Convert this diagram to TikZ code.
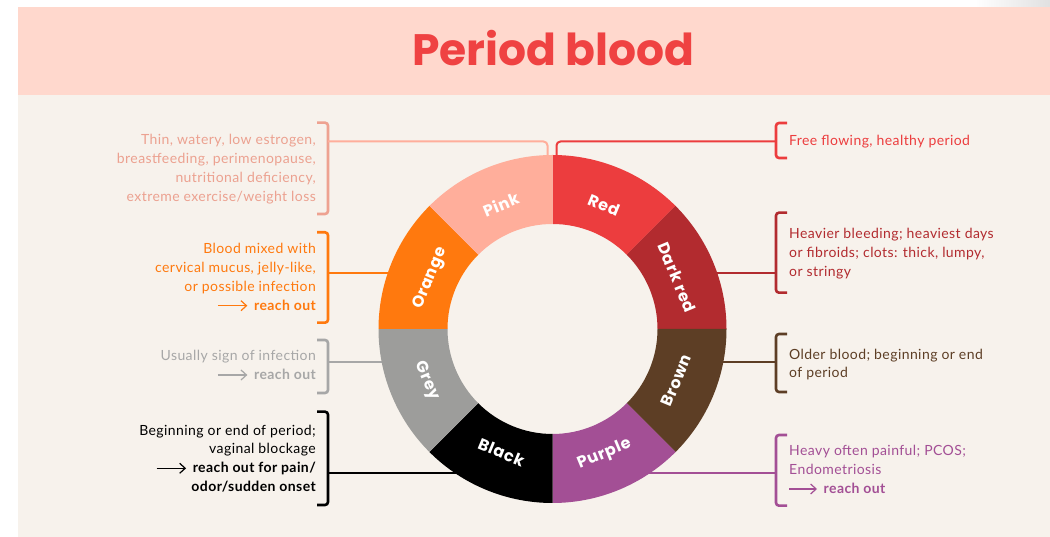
\documentclass[tikz,border=0pt]{standalone}
\usepackage{fontspec}
\setmainfont{Lato}[LetterSpace=3]
\newfontfamily\titlefont{Poppins}
\newfontfamily\ringfont{Poppins}[LetterSpace=4]
\usetikzlibrary{arrows.meta}

\definecolor{cream}{HTML}{F7F2EC}
\definecolor{header}{HTML}{FFD8CD}
\definecolor{titlered}{HTML}{EF4242}
\definecolor{cRed}{HTML}{EC3D3E}
\definecolor{cDark}{HTML}{B22B2F}
\definecolor{cBrown}{HTML}{5D3E25}
\definecolor{cPurple}{HTML}{A34F95}
\definecolor{cBlack}{HTML}{000000}
\definecolor{cGrey}{HTML}{9D9D9B}
\definecolor{cOrange}{HTML}{FF790E}
\definecolor{cPink}{HTML}{FFAE9B}
\definecolor{tPink}{HTML}{ECA190}
\definecolor{tGrey}{HTML}{A7A7A7}

% one 45-degree piece of the colour wheel
\newcommand\ringseg[3]{%
  \fill[#3] (#1:174) arc[start angle=#1, end angle=#2, radius=174]
    -- (#2:105) arc[start angle=#2, end angle=#1, radius=105] -- cycle;}

\tikzset{
  desc/.style={font=\fontsize{14}{19}\selectfont, inner sep=0pt},
  descbold/.style={font=\fontsize{14}{19}\selectfont\bfseries},
  lft/.style={desc, anchor=base east},
  rgt/.style={desc, anchor=base west},
  bracket/.style={line width=2.6pt, rounded corners=3pt},
  link/.style={line width=2pt, rounded corners=4pt},
  arr/.style={line width=1.2pt, -{Straight Barb[length=5.5pt, width=10pt]}},
  ringlabel/.style={text=white, font=\ringfont\bfseries\fontsize{16}{16}\selectfont,
    inner sep=0pt, text height=11pt, text depth=0pt},
}

\begin{document}
\begin{tikzpicture}[x=1pt, y=1pt]
\useasboundingbox (0,0) rectangle (1050,537);

% page, body and header band
\fill[white] (0,0) rectangle (1050,537);
\fill[cream] (18,0) rectangle (1050,442.3);
\fill[header] (18,442.3) rectangle (1050,530.3);
\shade[left color=white, right color=black!12] (975,530.3) rectangle (1050,537);
\node[font=\titlefont\bfseries\fontsize{44}{44}\selectfont, text=titlered,
  anchor=base, inner sep=0pt] (title) at (553.5,471.3) {Period blood};

% wheel centre and attachment points
\coordinate (C) at (552.5,208);
\coordinate (pinkIn) at (547.5,378);
\coordinate (redIn) at (556.5,378);
\coordinate (orangeIn) at (400,264);
\coordinate (darkIn) at (705,264);
\coordinate (greyIn) at (400,174.5);
\coordinate (brownIn) at (705,174.5);
\coordinate (blackIn) at (465,64);
\coordinate (purpleIn) at (640,64);

% left brackets
\draw[bracket, tPink!90!cPink] (317,414.3) -- (328,414.3) -- (328,323) -- (317,323);
\draw[bracket, cOrange] (317,304.7) -- (328,304.7) -- (328,214.3) -- (317,214.3);
\draw[bracket, tGrey] (317,197) -- (328,197) -- (328,144) -- (317,144);
\draw[bracket, cBlack] (317,125.3) -- (328,125.3) -- (328,32) -- (317,32);
\coordinate (pinkB) at (328,395.5);
\coordinate (orangeB) at (328,264);
\coordinate (greyB) at (328,174.5);
\coordinate (blackB) at (328,64);

% right brackets
\draw[bracket, cRed] (787,414) -- (776,414) -- (776,379) -- (787,379);
\draw[bracket, cDark] (787,324.3) -- (776,324.3) -- (776,244.3) -- (787,244.3);
\draw[bracket, cBrown] (787,203) -- (776,203) -- (776,145) -- (787,145);
\draw[bracket, cPurple] (787,102) -- (776,102) -- (776,31.3) -- (787,31.3);
\coordinate (redB) at (776,395.5);
\coordinate (darkB) at (776,264);
\coordinate (brownB) at (776,174.5);
\coordinate (purpleB) at (776,64);

% connectors from the brackets to the wheel
\draw[link, cPink] (pinkB) -| (pinkIn);
\draw[link, cRed] (redB) -| (redIn);
\draw[link, cOrange] (orangeB) -- (orangeIn);
\draw[link, cDark] (darkB) -- (darkIn);
\draw[link, tGrey] (greyB) -- (greyIn);
\draw[link, cBrown] (brownB) -- (brownIn);
\draw[link, cBlack] (blackB) -- (blackIn);
\draw[link, cPurple] (purpleB) -- (purpleIn);

% the colour wheel
\begin{scope}[shift={(C)}]
  \ringseg{90}{45}{cRed}
  \ringseg{45}{0}{cDark}
  \ringseg{0}{-45}{cBrown}
  \ringseg{-45}{-90}{cPurple}
  \ringseg{-90}{-135}{cBlack}
  \ringseg{-135}{-180}{cGrey}
  \ringseg{180}{135}{cOrange}
  \ringseg{135}{90}{cPink}
  \node[ringlabel, rotate=-22.5] (lRed) at (67.5:134) {Red};
  \node[ringlabel, rotate=-67.5] (lDark) at (22.5:134) {Dark red};
  \node[ringlabel, rotate=67.5] (lBrown) at (-22.5:134) {Brown};
  \node[ringlabel, rotate=22.5] (lPurple) at (-67.5:134) {Purple};
  \node[ringlabel, rotate=-22.5] (lBlack) at (-112.5:134) {Black};
  \node[ringlabel, rotate=-67.5] (lGrey) at (-157.5:134) {Grey};
  \node[ringlabel, rotate=67.5] (lOrange) at (157.5:134) {Orange};
  \node[ringlabel, rotate=22.5] (lPink) at (112.5:134) {Pink};
\end{scope}

% left descriptions
\begin{scope}[text=tPink]
  \node[lft] (pk1) at (316,392.5) {Thin, watery, low estrogen,};
  \node[lft] (pk2) at (316,373.5) {breastfeeding, perimenopause,};
  \node[lft] (pk3) at (316,354.5) {nutritional deficiency,};
  \node[lft] (pk4) at (316,335.8) {extreme exercise/weight loss};
\end{scope}
\begin{scope}[text=cOrange]
  \node[lft] (or1) at (316,283.5) {Blood mixed with};
  \node[lft] (or2) at (316,264.8) {cervical mucus, jelly-like,};
  \node[lft] (or3) at (316,245.8) {or possible infection};
  \node[lft, descbold] (or4) at (316,226.8) {reach out};
\end{scope}
\draw[arr, cOrange] ([shift={(-36,4.5)}]or4.base west) -- ([shift={(-6.5,4.5)}]or4.base west);
\begin{scope}[text=tGrey]
  \node[lft] (gr1) at (316,176.5) {Usually sign of infection};
  \node[lft, descbold] (gr2) at (316,157.5) {reach out};
\end{scope}
\draw[arr, tGrey] ([shift={(-36,4.5)}]gr2.base west) -- ([shift={(-6.5,4.5)}]gr2.base west);
\begin{scope}[text=cBlack]
  \node[lft] (bk1) at (316,101.8) {Beginning or end of period;};
  \node[lft] (bk2) at (316,83.2) {vaginal blockage};
  \node[lft, descbold] (bk3) at (316,64.2) {reach out for pain/};
  \node[lft, descbold] (bk4) at (316,45.2) {odor/sudden onset};
\end{scope}
\draw[arr, cBlack] ([shift={(-36,4.5)}]bk3.base west) -- ([shift={(-6.5,4.5)}]bk3.base west);

% right descriptions
\node[rgt, text=cRed] (rd1) at (789,391.5) {Free flowing, healthy period};
\begin{scope}[text=cDark]
  \node[rgt] (dr1) at (789,298.5) {Heavier bleeding; heaviest days};
  \node[rgt] (dr2) at (789,279.5) {or fibroids; clots: thick, lumpy,};
  \node[rgt] (dr3) at (789,260.5) {or stringy};
\end{scope}
\begin{scope}[text=cBrown]
  \node[rgt] (br1) at (789,177.5) {Older blood; beginning or end};
  \node[rgt] (br2) at (789,159) {of period};
\end{scope}
\begin{scope}[text=cPurple]
  \node[rgt] (pu1) at (789,81) {Heavy often painful; PCOS;};
  \node[rgt] (pu2) at (789,62.5) {Endometriosis};
  \node[rgt, descbold] (pu3) at (823.5,43.5) {reach out};
\end{scope}
\draw[arr, cPurple] ([shift={(-34.5,4.5)}]pu3.base west) -- ([shift={(-6.5,4.5)}]pu3.base west);
\end{tikzpicture}
\end{document}
